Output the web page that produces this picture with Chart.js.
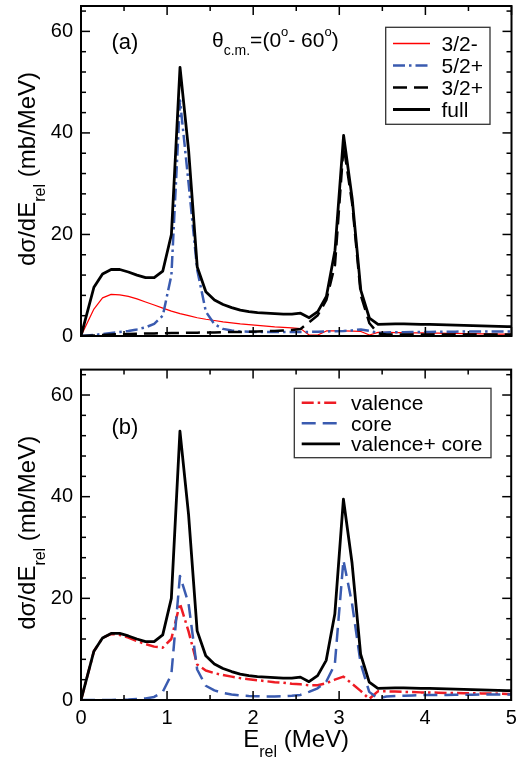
<!DOCTYPE html>
<html>
<head>
<meta charset="UTF-8">
<title>Relative energy distribution</title>
<style>
  body { margin: 0; padding: 0; background: #fff; width: 528px; height: 760px; overflow: hidden; }
  .panel { position: absolute; left: 0; width: 528px; }
  #panelA { top: 0; height: 350px; }
  #panelB { top: 350px; height: 410px; }
</style>
</head>
<body>
<div class="panel" id="panelA"><canvas id="chartA" width="528" height="350"></canvas></div>
<div class="panel" id="panelB"><canvas id="chartB" width="528" height="410"></canvas></div>

<script src="https://cdn.jsdelivr.net/npm/chart.js"></script>
<script>
// relative energy grid (MeV)
const energy = [0, 0.15, 0.25, 0.35, 0.45, 0.55, 0.65, 0.75, 0.85, 0.95,
  1.05, 1.15, 1.25, 1.35, 1.45, 1.55, 1.65, 1.75, 1.85, 1.95,
  2.05, 2.15, 2.25, 2.35, 2.45, 2.55, 2.65, 2.75, 2.85, 2.95,
  3.05, 3.15, 3.25, 3.35, 3.45, 3.55, 3.65, 3.75, 3.85, 3.95,
  4.05, 4.15, 4.25, 4.35, 4.45, 4.55, 4.65, 4.75, 4.85, 4.95, 5.0];

// full calculation (both panels)
const full = [0, 9.6, 12.2, 13.1, 13.1, 12.6, 12.0, 11.5, 11.5, 12.8,
  20.0, 52.9, 36.5, 13.6, 8.7, 7.1, 6.2, 5.6, 5.1, 4.8,
  4.6, 4.5, 4.4, 4.3, 4.3, 4.5, 3.6, 4.8, 7.8, 16.9,
  39.5, 27.0, 9.0, 3.5, 2.3, 2.35, 2.4, 2.4, 2.35, 2.3,
  2.3, 2.25, 2.2, 2.15, 2.1, 2.05, 2.0, 1.95, 1.9, 1.85, 1.85];

// panel (a): contributions by final state
const state32m = [0, 5.3, 7.5, 8.2, 8.1, 7.8, 7.3, 6.7, 6.1, 5.5,
  4.9, 4.4, 4.0, 3.6, 3.3, 3.05, 2.8, 2.6, 2.4, 2.25,
  2.1, 1.95, 1.8, 1.7, 1.6, 1.45, 0.2, 0.2, 1.0, 1.0,
  1.0, 0.95, 0.9, 0.2, 0.7, 0.7, 0.65, 0.65, 0.6, 0.6,
  0.55, 0.55, 0.5, 0.5, 0.45, 0.45, 0.4, 0.4, 0.35, 0.35, 0.35];
const state52p = [0, 0.2, 0.4, 0.6, 0.8, 1.0, 1.3, 1.7, 2.4, 4.0,
  12.0, 46.4, 30.0, 13.0, 4.8, 2.3, 1.4, 1.1, 0.9, 0.85,
  0.8, 0.8, 0.8, 0.8, 0.8, 0.8, 0.8, 0.85, 0.9, 0.95,
  1.0, 1.1, 1.3, 1.0, 0.6, 0.7, 0.75, 0.75, 0.8, 0.8,
  0.8, 0.85, 0.85, 0.85, 0.9, 0.9, 0.9, 0.9, 0.9, 0.9, 0.9];
const state32p = [0, 0.1, 0.2, 0.3, 0.35, 0.4, 0.45, 0.5, 0.5, 0.55,
  0.6, 0.6, 0.65, 0.65, 0.7, 0.7, 0.75, 0.8, 0.8, 0.85,
  0.9, 0.95, 1.0, 1.1, 1.2, 1.4, 2.7, 4.1, 7.1, 14.0,
  37.5, 26.0, 8.0, 2.5, 0.5, 0.3, 0.3, 0.3, 0.3, 0.3,
  0.3, 0.3, 0.3, 0.3, 0.3, 0.3, 0.3, 0.3, 0.3, 0.3, 0.3];

// panel (b): valence / core excitation
const valence = [0, 9.6, 12.2, 13.0, 12.8, 12.3, 11.6, 11.0, 10.5, 10.3,
  12.0, 19.0, 13.5, 7.0, 5.8, 5.3, 4.9, 4.6, 4.3, 4.1,
  3.9, 3.7, 3.5, 3.4, 3.2, 3.1, 2.9, 2.9, 3.3, 4.0,
  4.6, 3.2, 1.8, 0.2, 1.7, 1.7, 1.65, 1.6, 1.55, 1.5,
  1.5, 1.45, 1.4, 1.4, 1.35, 1.35, 1.3, 1.3, 1.25, 1.2, 1.2];
const core = [0, 0, 0, 0, 0.05, 0.1, 0.2, 0.3, 0.6, 1.6,
  5.0, 24.4, 19.0, 6.0, 2.8, 1.9, 1.4, 1.1, 0.9, 0.8,
  0.75, 0.7, 0.7, 0.75, 0.85, 1.0, 1.6, 2.3, 3.6, 7.0,
  27.5, 19.0, 7.2, 1.6, 0.3, 0.7, 0.8, 0.85, 0.9, 0.95,
  1.0, 1.0, 1.0, 1.05, 1.05, 1.05, 1.1, 1.1, 1.1, 1.1, 1.1];

const xTicks = [0, 1, 2, 3, 4, 5];
const yTicks = [0, 20, 40, 60];

const FONT = "'Liberation Sans', Arial, Helvetica, sans-serif";
const RED = '#ee1c24';
const BLUE = '#3a5bb0';

function pts(ys) {
  return energy.map((e, i) => ({ x: e, y: ys[i] }));
}

// draw a run of text pieces: [text, size, dy]
function richWidth(ctx, parts) {
  let w = 0;
  parts.forEach(p => { ctx.font = p[1] + 'px ' + FONT; w += ctx.measureText(p[0]).width; });
  return w;
}
function drawRich(ctx, parts, x, y) {
  let cx = x;
  parts.forEach(p => {
    ctx.font = p[1] + 'px ' + FONT;
    ctx.fillText(p[0], cx, y + (p[2] || 0));
    cx += ctx.measureText(p[0]).width;
  });
}

function seg(ctx, x0, y0, x1, y1) {
  ctx.beginPath(); ctx.moveTo(x0, y0); ctx.lineTo(x1, y1); ctx.stroke();
}

const panelDecor = {
  id: 'panelDecor',
  afterDatasetsDraw(chart, args, opts) {
    const ctx = chart.ctx, a = chart.chartArea;
    const xs = chart.scales.x, ys = chart.scales.y;
    ctx.save();
    ctx.fillStyle = '#000';
    ctx.strokeStyle = '#000';
    ctx.textBaseline = 'alphabetic';
    ctx.textAlign = 'left';

    // inward ticks on all four sides
    ctx.lineWidth = 1.5;
    for (let i = 0; i <= 10; i++) {
      const v = i * 0.5, px = xs.getPixelForValue(v), len = i % 2 === 0 ? 9 : 5;
      seg(ctx, px, a.bottom, px, a.bottom - len);
      seg(ctx, px, a.top, px, a.top + len);
    }
    for (let v = 0; v <= 64; v += 4) {
      const py = ys.getPixelForValue(v), len = v % 20 === 0 ? 9 : 5;
      seg(ctx, a.left, py, a.left + len, py);
      seg(ctx, a.right, py, a.right - len, py);
    }
    // frame
    ctx.lineWidth = 2;
    ctx.strokeRect(a.left, a.top, a.right - a.left, a.bottom - a.top);

    // y title
    const yt = [['dσ/dE', 24, 0], ['rel', 16, 10], [' (mb/MeV)', 24, 0]];
    ctx.save();
    ctx.translate(35, (a.top + a.bottom) / 2 - 2);
    ctx.rotate(-Math.PI / 2);
    drawRich(ctx, yt, -richWidth(ctx, yt) / 2, 0);
    ctx.restore();

    // panel tag
    ctx.font = '22px ' + FONT;
    ctx.fillText(opts.tag, 111.5, opts.tagY);

    if (opts.theta) {
      drawRich(ctx, [['θ', 21, 0], ['c.m.', 14, 8], ['=(0', 21, 0], ['o', 13, -11],
        ['- 60', 21, 0], ['o', 13, -11], [')', 21, 0]], 212, 46.5);
    }

    if (opts.xTitle) {
      const xt = [['E', 24, 0], ['rel', 16, 10], [' (MeV)', 24, 0]];
      const cx = (a.left + a.right) / 2;
      drawRich(ctx, xt, cx - richWidth(ctx, xt) / 2, opts.xTitleY);
    }

    // legend box
    const lg = opts.legend;
    ctx.lineWidth = 1.3;
    ctx.strokeStyle = '#333';
    ctx.strokeRect(lg.x, lg.y, lg.w, lg.h);
    chart.data.datasets.forEach((ds, i) => {
      const y = lg.row0 + i * lg.dy;
      ctx.strokeStyle = ds.borderColor;
      ctx.lineWidth = Math.max(ds.borderWidth, 1.5);
      ctx.setLineDash(ds.borderDash || []);
      seg(ctx, lg.lx0, y, lg.lx1, y);
      ctx.setLineDash([]);
      ctx.fillStyle = '#000';
      ctx.font = '21px ' + FONT;
      ctx.fillText(ds.label, lg.tx, y + 7.5);
    });
    ctx.restore();
  }
};

function makeOptions(cfg) {
  return {
    responsive: false,
    animation: false,
    events: [],
    layout: { padding: cfg.padding, autoPadding: false },
    plugins: {
      legend: { display: false },
      tooltip: { enabled: false },
      panelDecor: cfg.decor
    },
    scales: {
      x: {
        type: 'linear', min: 0, max: 5,
        grid: { display: false, drawTicks: false },
        border: { display: false },
        ticks: { display: cfg.xLabels, stepSize: 1, padding: 6, color: '#000', font: { family: FONT, size: 20 } },
        afterBuildTicks: s => { s.ticks = xTicks.map(v => ({ value: v })); },
        afterFit: s => { s.height = cfg.xHeight; s.paddingLeft = 0; s.paddingRight = 0; }
      },
      y: {
        type: 'linear', min: 0, max: 65,
        grid: { display: false, drawTicks: false },
        border: { display: false },
        ticks: { stepSize: 20, padding: 8, color: '#000', font: { family: FONT, size: 20 } },
        afterBuildTicks: s => { s.ticks = yTicks.map(v => ({ value: v })); },
        afterFit: s => { s.width = 81; s.paddingTop = 0; s.paddingBottom = 0; }
      }
    }
  };
}

function lineSet(label, ys, color, width, dash, order) {
  return {
    label: label, data: pts(ys), borderColor: color, borderWidth: width,
    borderDash: dash, borderJoinStyle: 'round', pointRadius: 0, tension: 0,
    fill: false, order: order
  };
}

new Chart(document.getElementById('chartA'), {
  type: 'line',
  data: {
    datasets: [
      lineSet('3/2-', state32m, '#ff0000', 1.2, [], 3),
      lineSet('5/2+', state52p, BLUE, 2.5, [12, 4, 2.5, 4], 2),
      lineSet('3/2+', state32p, '#000', 2.5, [14, 7], 1),
      lineSet('full', full, '#000', 2.8, [], 0)
    ]
  },
  options: makeOptions({
    padding: { top: 6, right: 16.5, left: 0, bottom: 0 },
    xLabels: false,
    xHeight: 14,
    decor: {
      tag: '(a)', tagY: 49, theta: true, xTitle: false,
      legend: { x: 385.7, y: 27.3, w: 104.3, h: 97, row0: 43.5, dy: 22, lx0: 393, lx1: 430, tx: 441.5 }
    }
  }),
  plugins: [panelDecor]
});

new Chart(document.getElementById('chartB'), {
  type: 'line',
  data: {
    datasets: [
      lineSet('valence', valence, RED, 2.5, [12, 4, 2.5, 4], 2),
      lineSet('core', core, BLUE, 2.5, [14, 7], 1),
      lineSet('valence+ core', full, '#000', 2.8, [], 0)
    ]
  },
  options: makeOptions({
    padding: { top: 19.6, right: 16.8, left: 0, bottom: 0 },
    xLabels: true,
    xHeight: 60,
    decor: {
      tag: '(b)', tagY: 84.3, theta: false, xTitle: true, xTitleY: 396.5,
      legend: { x: 294.3, y: 38.3, w: 196.7, h: 69.4, row0: 52.8, dy: 20.5, lx0: 301.7, lx1: 340, tx: 351 }
    }
  }),
  plugins: [panelDecor]
});
</script>
</body>
</html>
